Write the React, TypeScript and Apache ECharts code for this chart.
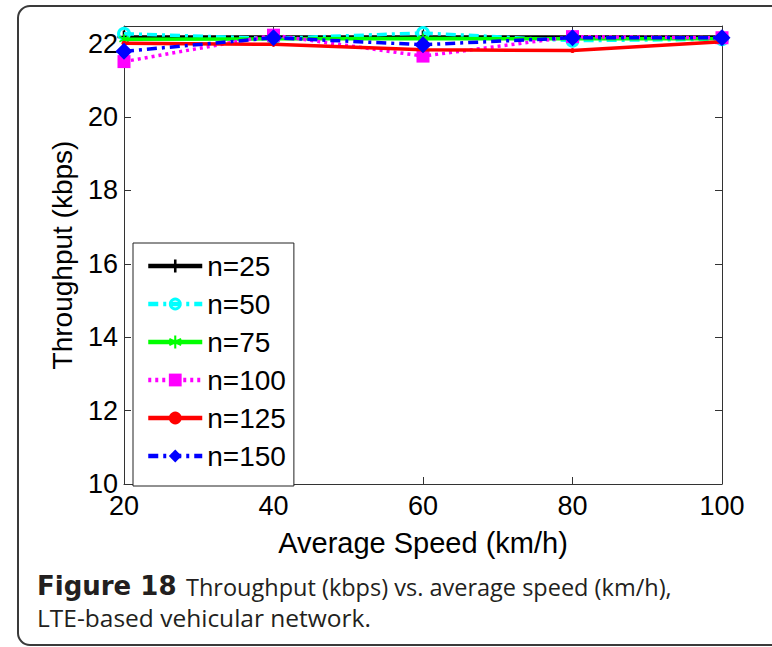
import React, { useEffect, useRef } from "react";
import * as echarts from "echarts";

const speeds = [20, 40, 60, 80, 100];
const seriesNames = ["n=25", "n=50", "n=75", "n=100", "n=125", "n=150"];
const n25 = [22.18, 22.18, 22.18, 22.18, 22.18];
const n50 = [22.27, 22.14, 22.29, 22.08, 22.12];
const n75 = [22.12, 22.13, 22.14, 22.13, 22.13];
const n100 = [21.51, 22.23, 21.66, 22.19, 22.16];
const n125 = [22.01, 21.98, 21.83, 21.81, 22.05];
const n150 = [21.79, 22.16, 21.97, 22.16, 22.16];
const yTicks = [10, 12, 14, 16, 18, 20, 22];
const xTicks = [20, 40, 60, 80, 100];

const PLUS = "path://M4,0H6V4H10V6H6V10H4V6H0V4H4Z";
const STAR = "path://M4.3,0H5.7V3.3L8.6,1.6L9.3,2.8L6.4,4.5L9.3,6.2L8.6,7.4L5.7,5.7V9H4.3V5.7L1.4,7.4L0.7,6.2L3.6,4.5L0.7,2.8L1.4,1.6L4.3,3.3Z";
const RING = "path://M10,0A10,10,0,1,1,9.99,0ZM10,4.5A5.5,5.5,0,1,0,10.01,4.5Z";

const FONT = "Arial";

export default function App() {
  const ref = useRef<HTMLDivElement>(null);
  useEffect(() => {
    if (!ref.current) return;
    const chart = echarts.init(ref.current, undefined, { renderer: "svg" });
    const pair = (vals: number[]) => speeds.map((s, i) => [s, vals[i]]);
    const dashDot = [10, 5, 3, 5];
    const seriesDefs = [
      { vals: n25, color: "#000000", type: "solid", symbol: PLUS, size: 13 },
      { vals: n50, color: "#00ffff", type: dashDot, symbol: RING, size: 14 },
      { vals: n75, color: "#00ff00", type: "solid", symbol: STAR, size: 10 },
      { vals: n100, color: "#ff00ff", type: [3, 4], symbol: "rect", size: 13 },
      { vals: n125, color: "#ff0000", type: "solid", symbol: "circle", size: 5 },
      { vals: n150, color: "#0000ff", type: dashDot, symbol: "diamond", size: 17 },
    ];
    const itemStyleOf = (d: any) => ({ color: d.color, borderColor: d.color, borderWidth: 0 });
    const series = seriesDefs.map((d, i) => ({
      name: seriesNames[i],
      type: "line",
      data: pair(d.vals),
      symbol: d.symbol,
      symbolSize: d.size,
      showAllSymbol: true,
      z: 2 + i,
      lineStyle: { color: d.color, width: 3.5, type: d.type },
      itemStyle: itemStyleOf(d),
      emphasis: { disabled: true },
    }));
    const legendData = seriesDefs.map((d, i) => ({
      name: seriesNames[i],
      lineStyle: { color: d.color, width: 4.5, type: d.type },
      itemStyle: itemStyleOf(d),
    }));
    const axisLabelStyle = { fontSize: 27, color: "#000", fontFamily: FONT };
    const capFont = "Open Sans";
    chart.setOption({
      animation: false,
      backgroundColor: "#ffffff",
      grid: { left: 124, right: 50, top: 26, bottom: 163, containLabel: false },
      xAxis: [
        {
          type: "value",
          min: 20,
          max: 100,
          interval: 20,
          name: "Average Speed (km/h)",
          nameLocation: "middle",
          nameGap: 44,
          nameTextStyle: { fontSize: 29, color: "#000", fontFamily: FONT },
          axisLine: { show: true, lineStyle: { color: "#333", width: 1 } },
          axisTick: { show: true, inside: true, length: 7, lineStyle: { color: "#333" } },
          axisLabel: {
            ...axisLabelStyle,
            margin: 8,
            formatter: (v: number) => (xTicks.includes(v) ? String(v) : ""),
          },
          splitLine: { show: false },
        },
        {
          type: "value",
          position: "top",
          min: 20,
          max: 100,
          interval: 20,
          axisLine: { show: true, lineStyle: { color: "#333", width: 1 } },
          axisTick: { show: true, inside: true, length: 7, lineStyle: { color: "#333" } },
          axisLabel: { show: false },
          splitLine: { show: false },
        },
      ],
      yAxis: [
        {
          type: "value",
          min: 10,
          max: 22.48,
          interval: 2,
          name: "Throughput (kbps)",
          nameLocation: "middle",
          nameGap: 48,
          nameTextStyle: { fontSize: 28, color: "#000", fontFamily: FONT },
          axisLine: { show: true, lineStyle: { color: "#333", width: 1 } },
          axisTick: { show: true, inside: true, length: 7, lineStyle: { color: "#333" } },
          axisLabel: {
            ...axisLabelStyle,
            margin: 6,
            showMaxLabel: false,
            formatter: (v: number) => (yTicks.includes(v) ? String(v) : ""),
          },
          splitLine: { show: false },
        },
        {
          type: "value",
          position: "right",
          min: 10,
          max: 22.48,
          interval: 2,
          axisLine: { show: true, lineStyle: { color: "#333", width: 1 } },
          axisTick: { show: true, inside: true, length: 7, lineStyle: { color: "#333" } },
          axisLabel: { show: false },
          splitLine: { show: false },
        },
      ],
      legend: {
        data: legendData,
        orient: "vertical",
        left: 133,
        top: 243,
        backgroundColor: "#ffffff",
        borderColor: "#222",
        borderWidth: 1,
        borderRadius: 0,
        padding: [9, 8, 16, 13],
        itemGap: 10,
        itemWidth: 54,
        itemHeight: 16,
        lineStyle: { width: 4.5 },
        textStyle: { fontSize: 28, color: "#000", fontFamily: FONT, padding: [0, 0, 0, 0] },
        selectedMode: false,
      },
      graphic: [
        {
          type: "rect",
          shape: { x: 18, y: 6, width: 772, height: 639, r: 12 },
          style: { fill: "none", stroke: "#3a3a3a", lineWidth: 2 },
          z: -1,
          silent: true,
        },
        {
          type: "text",
          x: 37,
          y: 586,
          style: {
            text: "Figure 18",
            fontFamily: "DejaVu Sans",
            fontWeight: "bold",
            fontSize: 26,
            verticalAlign: "middle",
            fill: "#231f20",
          },
          silent: true,
        },
        {
          type: "text",
          x: 186,
          y: 587,
          style: {
            text: "Throughput (kbps) vs. average speed (km/h),",
            fontFamily: capFont,
            fontSize: 23.5,
            verticalAlign: "middle",
            fill: "#231f20",
          },
          silent: true,
        },
        {
          type: "text",
          x: 37,
          y: 617,
          style: {
            text: "LTE-based vehicular network.",
            fontFamily: capFont,
            fontSize: 24.5,
            verticalAlign: "middle",
            fill: "#231f20",
          },
          silent: true,
        },
      ],
      series,
    });
    return () => chart.dispose();
  }, []);
  return (
    <div
      ref={ref}
      style={{ position: "absolute", left: 0, top: 0, width: 772, height: 647 }}
    />
  );
}
